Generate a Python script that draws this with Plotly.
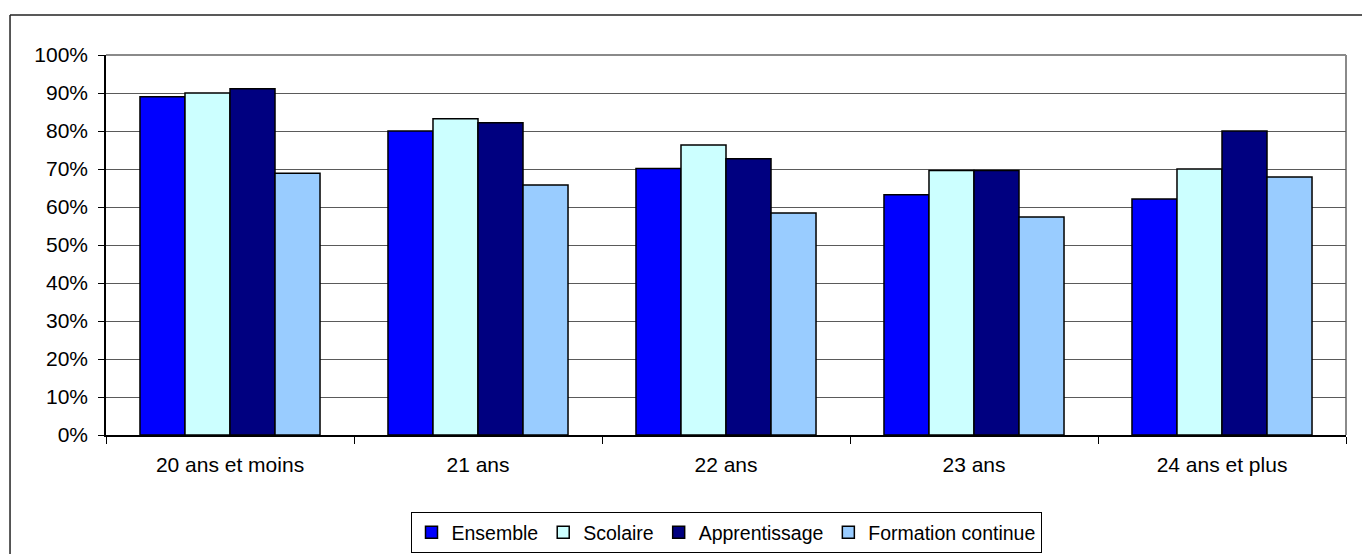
import plotly.graph_objects as go

categories = ["20 ans et moins", "21 ans", "22 ans", "23 ans", "24 ans et plus"]
ensemble = [89.0, 80.0, 70.1, 63.2, 62.1]
scolaire = [90.0, 83.2, 76.3, 69.6, 70.0]
apprentissage = [91.1, 82.2, 72.7, 69.6, 80.0]
formation_continue = [68.9, 65.8, 58.4, 57.4, 67.9]
series_names = ["Ensemble", "Scolaire", "Apprentissage", "Formation continue"]
series_colors = ["#0000FF", "#CCFFFF", "#000080", "#99CCFF"]
y_ticks = list(range(0, 101, 10))

fig = go.Figure()
for name, vals, col in zip(series_names,
                           [ensemble, scolaire, apprentissage, formation_continue],
                           series_colors):
    fig.add_trace(go.Bar(x=categories, y=vals, name=name,
                         marker=dict(color=col, line=dict(color="#000000", width=1.5))))

FONT = "Liberation Sans, Arial, sans-serif"
fig.update_layout(
    template="none",
    width=1362, height=554,
    margin=dict(l=106, r=16, t=55, b=119, pad=0, autoexpand=False),
    paper_bgcolor="white", plot_bgcolor="white",
    barmode="group", bargap=0.274, bargroupgap=0,
    font=dict(family=FONT, color="#000000", size=21),
    showlegend=True,
    legend=dict(orientation="h", x=0.5, xanchor="center", y=-0.2026, yanchor="top",
                bordercolor="#000000", borderwidth=1, bgcolor="white",
                font=dict(family=FONT, size=19.5, color="#000000"),
                itemwidth=30, tracegroupgap=0),
    xaxis=dict(showline=True, linecolor="#000000", linewidth=1.5,
               ticks="outside", tickson="boundaries", ticklen=7, tickcolor="#000000",
               tickwidth=1, tickfont=dict(size=21), showgrid=False,
               ticklabelstandoff=10, automargin=False),
    yaxis=dict(range=[0, 100], tickvals=y_ticks, ticktext=[f"{v}%" for v in y_ticks],
               showline=True, linecolor="#000000", linewidth=1.5,
               ticks="outside", ticklen=6, tickcolor="#000000", tickwidth=1,
               showgrid=True, gridcolor="#5a5a5a", gridwidth=1,
               tickfont=dict(size=21), zeroline=False, ticklabelstandoff=6,
               automargin=False),
)

# plot-area border (top and right, gray)
fig.add_shape(type="line", xref="paper", yref="paper", x0=0, x1=1, y0=1, y1=1,
              line=dict(color="#8a8a8a", width=2), layer="below")
fig.add_shape(type="line", xref="paper", yref="paper", x0=1, x1=1, y0=0, y1=1,
              line=dict(color="#8a8a8a", width=2), layer="below")
# outer chart frame (top and left visible)
fig.add_shape(type="line", xref="paper", yref="paper", x0=-0.0774, x1=1.05, y0=1.1053, y1=1.1053,
              line=dict(color="#222222", width=1.5))
fig.add_shape(type="line", xref="paper", yref="paper", x0=-0.0774, x1=-0.0774, y0=-0.5, y1=1.1053,
              line=dict(color="#222222", width=1.5))

fig.write_html("out.html", config={"displayModeBar": False},
               post_script="document.body.style.margin='0';document.body.style.overflow='hidden';")
